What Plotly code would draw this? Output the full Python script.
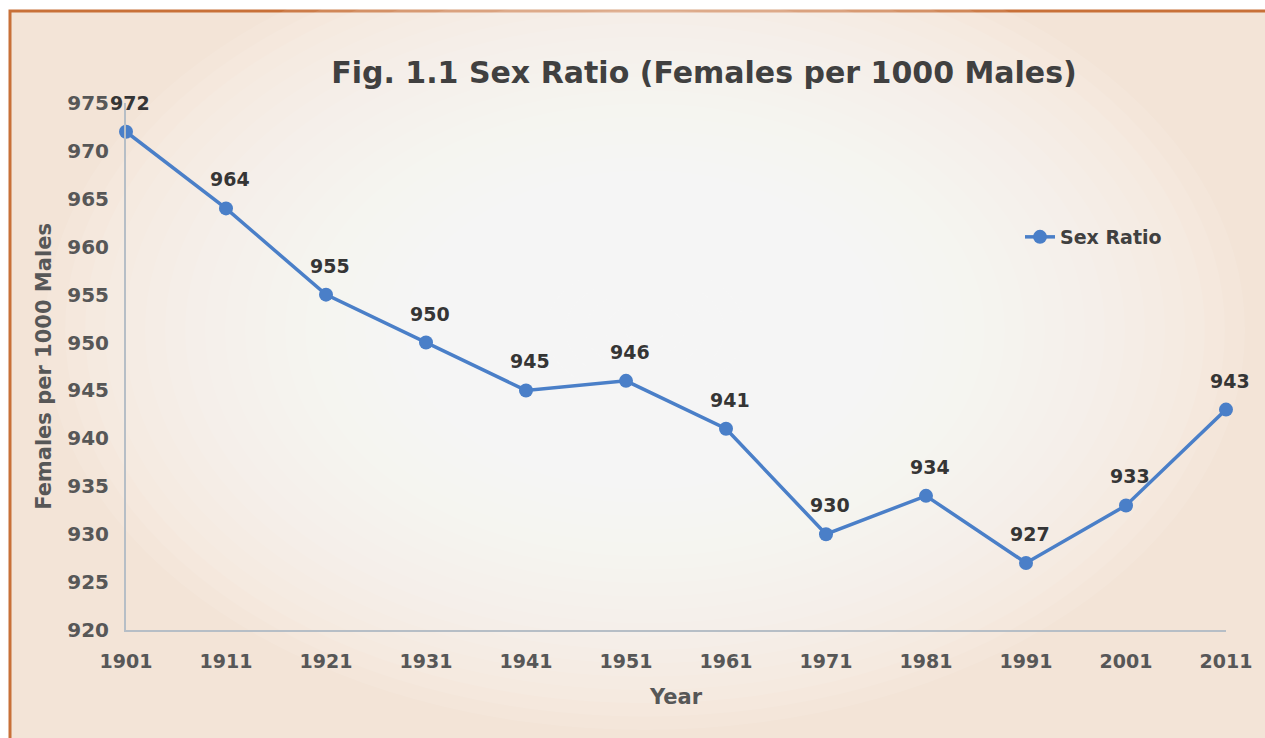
import plotly.graph_objects as go

years = ["1901", "1911", "1921", "1931", "1941", "1951", "1961", "1971", "1981", "1991", "2001", "2011"]
sex_ratio = [972, 964, 955, 950, 945, 946, 941, 930, 934, 927, 933, 943]
y_ticks = [920, 925, 930, 935, 940, 945, 950, 955, 960, 965, 970, 975]

W, H = 1265, 738
L, R, T, B = 126, 39, 103, 108
PW, PH = W - L - R, H - T - B

def px(x):
    return (x - L) / PW

def py(y):
    return (H - B - y) / PH

LINE = "#4a7fc8"
FONT = "DejaVu Sans"

fig = go.Figure()
fig.add_trace(go.Scatter(
    x=years, y=sex_ratio, mode="lines+markers", name="<b>Sex Ratio</b>",
    line=dict(color=LINE, width=3.5), marker=dict(color=LINE, size=14),
    cliponaxis=False,
))

shapes = [dict(type="rect", xref="paper", yref="paper", x0=px(10), y0=py(760), x1=px(1290), y1=py(11),
               fillcolor="#f3e4d7", line=dict(color="#c87038", width=3), layer="below")]
N = 30
cx, cy = 645, 330
for k in range(N):
    f = 1 - k / N
    rx, ry = 600 * f, 400 * f
    shapes.append(dict(type="circle", xref="paper", yref="paper",
                       x0=px(cx - rx), x1=px(cx + rx), y0=py(cy + ry), y1=py(cy - ry),
                       fillcolor="rgba(255,253,250,0.085)", line=dict(width=0), layer="below"))

annotations = [dict(x=i, y=v, xref="x", yref="y", text=f"<b>{v}</b>", showarrow=False, yshift=29, xshift=4,
                    font=dict(family=FONT, size=19, color="#353535"))
               for i, v in enumerate(sex_ratio)]

fig.update_layout(
    width=W, height=H,
    margin=dict(l=L, r=R, t=T, b=B),
    paper_bgcolor="white", plot_bgcolor="rgba(0,0,0,0)",
    shapes=shapes, annotations=annotations,
    title=dict(text="<b>Fig. 1.1 Sex Ratio (Females per 1000 Males)</b>", x=px(704), xanchor="center",
               y=1 - 72 / H, yanchor="middle", xref="paper",
               font=dict(family=FONT, size=30, color="#404040")),
    showlegend=True,
    legend=dict(x=px(1020), y=py(237), xanchor="left", yanchor="middle", bgcolor="rgba(0,0,0,0)",
                font=dict(family=FONT, size=19, color="#404040")),
    xaxis=dict(type="category", range=[0, 11], showgrid=False, showline=True, linecolor="#b6bec6",
               linewidth=2, ticks="", ticklabelstandoff=13,
               tickfont=dict(family=FONT, size=19, color="#575757", weight="bold"),
               title=dict(text="<b>Year</b>", standoff=19, font=dict(family=FONT, size=21, color="#575757"))),
    yaxis=dict(range=[920, 975], tickvals=y_ticks, showgrid=False, showline=True, linecolor="#b6bec6",
               linewidth=2, ticks="", ticklabelstandoff=11, zeroline=False,
               tickfont=dict(family=FONT, size=20, color="#575757", weight="bold"),
               title=dict(text="<b>Females per 1000 Males</b>", standoff=10,
                          font=dict(family=FONT, size=21, color="#575757"))),
)

fig.write_html("out.html", config={"displayModeBar": False},
               post_script="document.body.style.margin='0';")
